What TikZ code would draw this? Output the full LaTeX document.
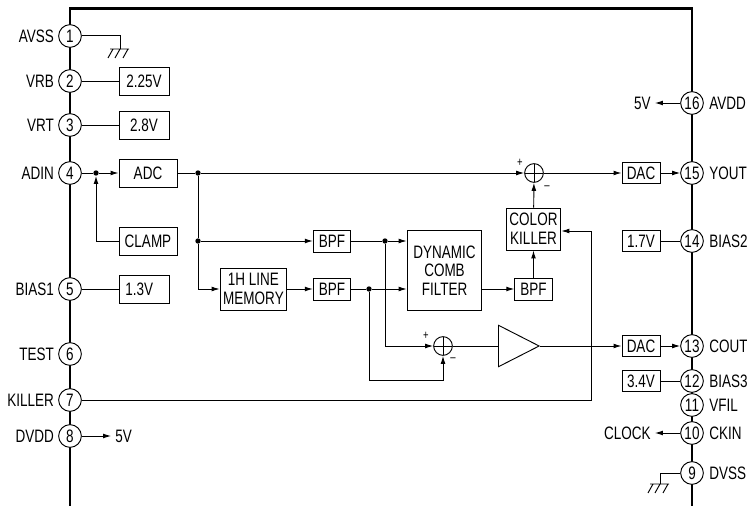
\documentclass[tikz,border=0pt]{standalone}
\usepackage{fontspec}
\setmainfont[FakeStretch=0.75]{Liberation Sans}
\usetikzlibrary{positioning, shapes.geometric, arrows.meta}

\begin{document}
\begin{tikzpicture}[
            x=0.75pt, y=-0.75pt,
            font=\fontsize{13.5}{14}\selectfont,
            wire/.style={line width=0.7pt},
            arr/.style={wire, -{Latex[length=6pt,width=3.6pt]}},
            box/.style={draw, wire, rectangle, inner sep=0pt, align=center, minimum height=21pt},
            pinnode/.style={draw, wire, circle, fill=white, inner sep=0pt, minimum size=17pt},
            pinlabel/.style={inner sep=1pt},
            dot/.style={circle, fill, inner sep=0pt, minimum size=4pt},
            sum/.style={draw, wire, circle, inner sep=0pt, minimum size=14pt,
                path picture={\draw[wire] (path picture bounding box.north) -- (path picture bounding box.south)
                    (path picture bounding box.west) -- (path picture bounding box.east);}},
            sign/.style={inner sep=0pt, font=\fontsize{9.5}{9.5}\selectfont},
            ground/.pic={\draw[wire] (-10,0) -- (9,0) (-7,0) -- (-12,9) (0,0) -- (-5,9) (8,0) -- (3,9);}
            ]
            \useasboundingbox (0,0) rectangle (747,506);

            % contorno do chip
            \draw[line width=1.7pt] (70,506) -- (70,8.5) -- (692,8.5) -- (692,506);

            % pinos da esquerda
            \node[pinnode] (pin1) at (70,36) {1};
            \node[pinnode] (pin2) at (70,81) {2};
            \node[pinnode] (pin3) at (70,125) {3};
            \node[pinnode] (pin4) at (70,173) {4};
            \node[pinnode] (pin5) at (70,289) {5};
            \node[pinnode] (pin6) at (70,354) {6};
            \node[pinnode] (pin7) at (70,400) {7};
            \node[pinnode] (pin8) at (70,436) {8};

            \node[pinlabel, left=2pt of pin1] (avss) {AVSS};
            \node[pinlabel, left=2pt of pin2] (vrb) {VRB};
            \node[pinlabel, left=2pt of pin3] (vrt) {VRT};
            \node[pinlabel, left=2pt of pin4] (adin) {ADIN};
            \node[pinlabel, left=2pt of pin5] (bias1) {BIAS1};
            \node[pinlabel, left=2pt of pin6] (test) {TEST};
            \node[pinlabel, left=2pt of pin7] (killer) {KILLER};
            \node[pinlabel, left=2pt of pin8] (dvdd) {DVDD};
            \node[pinlabel, right=24pt of pin8] (fivea) {5V};

            % pinos da direita
            \node[pinnode] (pin16) at (692,103) {16};
            \node[pinnode] (pin15) at (692,173) {15};
            \node[pinnode] (pin14) at (692,241) {14};
            \node[pinnode] (pin13) at (692,346) {13};
            \node[pinnode] (pin12) at (692,381) {12};
            \node[pinnode] (pin11) at (692,405) {11};
            \node[pinnode] (pin10) at (692,433) {10};
            \node[pinnode] (pin9) at (692,473) {9};

            \node[pinlabel, right=3pt of pin16] (avdd) {AVDD};
            \node[pinlabel, right=3pt of pin15] (yout) {YOUT};
            \node[pinlabel, right=3pt of pin14] (bias2) {BIAS2};
            \node[pinlabel, right=3pt of pin13] (cout) {COUT};
            \node[pinlabel, right=3pt of pin12] (bias3) {BIAS3};
            \node[pinlabel, right=3pt of pin11] (vfil) {VFIL};
            \node[pinlabel, right=3pt of pin10] (ckin) {CKIN};
            \node[pinlabel, right=3pt of pin9] (dvss) {DVSS};
            \node[pinlabel, left=21pt of pin16] (fiveb) {5V};
            \node[pinlabel, left=21pt of pin10] (clock) {CLOCK};

            % blocos
            \node[box, minimum width=37.5pt] (v225) at (144,81) {2.25V};
            \node[box, minimum width=37.5pt] (v28) at (144,125) {2.8V};
            \node[box, minimum width=43.5pt] (adc) at (148,173) {ADC};
            \node[box, minimum width=43.5pt] (clamp) at (148,241) {CLAMP};
            \node[box, minimum width=37.5pt] (v13) at (144,289) {1.3V\hspace*{7pt}};
            \node[box, minimum width=50pt, minimum height=31.5pt] (mem) at (253.5,289) {1H LINE\\MEMORY};
            \node[box, minimum width=28pt, minimum height=16.5pt] (bpf1) at (332,241) {BPF};
            \node[box, minimum width=28pt, minimum height=16.5pt] (bpf2) at (332,289) {BPF};
            \node[box, minimum width=56pt, minimum height=60.5pt] (comb) at (444.5,270.5) {DYNAMIC\\COMB\\FILTER};
            \node[box, minimum width=28pt, minimum height=16.5pt] (bpf3) at (533.5,289) {BPF};
            \node[box, minimum width=41pt, minimum height=31.5pt] (color) at (533.5,229) {COLOR\\KILLER};
            \node[sum] (sum1) at (534,173) {};
            \node[sum] (sum2) at (443,346) {};
            \node[draw, wire, isosceles triangle, isosceles triangle apex angle=54, inner sep=0pt,
                minimum height=30.5pt, anchor=west] (amp) at (498,346) {};
            \node[box, minimum width=28.5pt, minimum height=16pt] (dac1) at (641,173) {DAC};
            \node[box, minimum width=28.5pt, minimum height=16pt] (v17) at (641,241) {1.7V};
            \node[box, minimum width=28.5pt, minimum height=16pt] (dac2) at (641,346) {DAC};
            \node[box, minimum width=28.5pt, minimum height=16pt] (v34) at (641,381) {3.4V};

            % sinais de soma
            \node[sign] (plus1) at (520,163) {+};
            \node[sign] (minus1) at (547,188) {--};
            \node[sign] (plus2) at (426,336) {+};
            \node[sign] (minus2) at (453,360) {--};

            % junções e pontos auxiliares
            \node[dot] (j1) at (96,173) {};
            \node[dot] (j2) at (198,173) {};
            \node[dot] (j3) at (198,241) {};
            \node[dot] (j4) at (385,241) {};
            \node[dot] (j5) at (369,289) {};
            \coordinate (gnd1) at (120,49);
            \coordinate (gnd2) at (660,484);
            \coordinate (kcorner) at (591,231);

            % ligações
            \draw[wire] (pin1.east |- 0,35) -| (gnd1);
            \pic at (gnd1) {ground};
            \draw[wire] (pin9.west |- 0,473) -| (gnd2);
            \pic at (gnd2) {ground};
            \draw[wire] (pin2) -- (v225);
            \draw[wire] (pin3) -- (v28);
            \draw[wire] (pin5) -- (v13);
            \draw[arr, shorten >=2pt] (pin8) -- (fivea);
            \draw[wire] (pin4) -- (j1);
            \draw[arr] (j1) -- (adc);
            \draw[arr] (clamp.west) -| (j1);
            \draw[wire] (adc) -- (j2);
            \draw[arr] (j2) -- (sum1);
            \draw[wire] (j2) -- (j3);
            \draw[arr] (j3) -- (bpf1);
            \draw[arr] (j3) |- (mem);
            \draw[arr] (mem) -- (bpf2);
            \draw[wire] (bpf1) -- (j4);
            \draw[arr] (j4) -- (j4 -| comb.west);
            \draw[wire] (bpf2) -- (j5);
            \draw[arr] (j5) -- (comb.west |- j5);
            \draw[arr] (j4) |- (sum2);
            \draw[arr] (j5) |- (443,380) -- (sum2);
            \draw[wire] (sum2) -- (amp.west);
            \draw[arr] (amp.apex) -- (dac2);
            \draw[arr] (comb.east |- bpf3) -- (bpf3);
            \draw[arr] (bpf3) -- (color);
            \draw[arr] (color) -- (sum1);
            \draw[arr] (sum1) -- (dac1);
            \draw[arr] (dac1) -- (pin15);
            \draw[arr] (dac2) -- (pin13);
            \draw[wire] (v17) -- (pin14);
            \draw[wire] (v34) -- (pin12);
            \draw[arr, shorten >=2pt] (pin16) -- (fiveb);
            \draw[arr, shorten >=2pt] (pin10) -- (clock);
            \draw[arr] (pin7) -| (kcorner) -- (color.east |- kcorner);

        \end{tikzpicture}
\end{document}
